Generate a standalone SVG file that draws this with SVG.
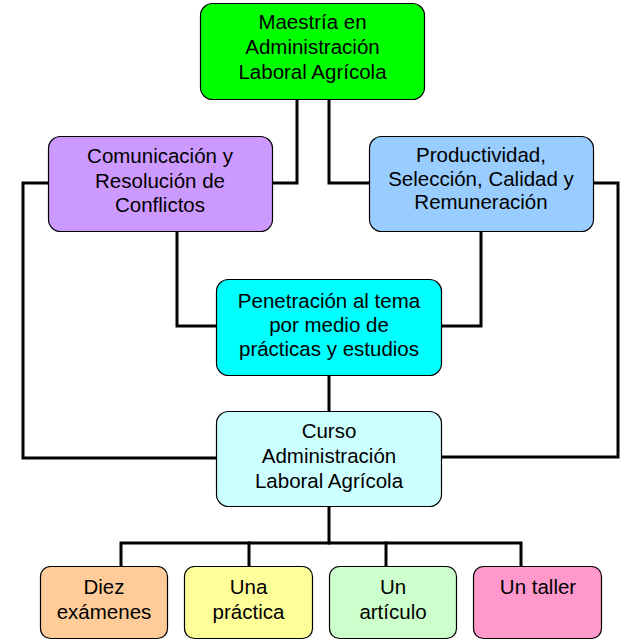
<svg xmlns="http://www.w3.org/2000/svg" width="624" height="642" viewBox="0 0 624 642">
<style>
.box{stroke:#000;stroke-width:1.2}
.t{font-family:"Liberation Sans",Arial,sans-serif;font-size:20.5px;fill:#000;text-anchor:middle}
.c{fill:none;stroke:#000;stroke-width:3;stroke-linejoin:miter;stroke-linecap:square}
</style>
<rect width="624" height="642" fill="#fff"/>
<g id="connectors">
<polyline class="c" points="297,99 297,183 272,183"/>
<polyline class="c" points="329,99 329,183 369,183"/>
<polyline class="c" points="48,183 23,183 23,458 216,458"/>
<polyline class="c" points="593,183 618,183 618,457 441,457"/>
<polyline class="c" points="177,231 177,326 216,326"/>
<polyline class="c" points="481,231 481,326 441,326"/>
<line class="c" x1="329" y1="375" x2="329" y2="411"/>
<line class="c" x1="329" y1="506" x2="329" y2="543"/>
<polyline class="c" points="121,566 121,543 521,543 521,566"/>
<line class="c" x1="249" y1="543" x2="249" y2="566"/>
<line class="c" x1="386" y1="543" x2="386" y2="566"/>
</g>
<g id="n-maestria">
<rect class="box" x="200.5" y="3.5" width="224" height="96" rx="12" fill="#00FF00"/>
<text class="t" x="312.5" y="29">Maestría en</text>
<text class="t" x="312.5" y="54">Administración</text>
<text class="t" x="312.5" y="79">Laboral Agrícola</text>
</g>
<g id="n-comunicacion">
<rect class="box" x="48.5" y="136.5" width="224" height="95" rx="12" fill="#CC99FF"/>
<text class="t" x="160" y="163">Comunicación y</text>
<text class="t" x="160" y="187.5">Resolución de</text>
<text class="t" x="160" y="212">Conflictos</text>
</g>
<g id="n-productividad">
<rect class="box" x="369.5" y="136.5" width="224" height="95" rx="12" fill="#99CCFF"/>
<text class="t" x="481" y="162">Productividad,</text>
<text class="t" x="481" y="185.5">Selección, Calidad y</text>
<text class="t" x="481" y="208.5">Remuneración</text>
</g>
<g id="n-penetracion">
<rect class="box" x="216.5" y="279.5" width="225" height="96" rx="12" fill="#00FFFF"/>
<text class="t" x="329" y="307.5">Penetración al tema</text>
<text class="t" x="329" y="331.5">por medio de</text>
<text class="t" x="329" y="356">prácticas y estudios</text>
</g>
<g id="n-curso">
<rect class="box" x="216.5" y="411.5" width="225" height="95" rx="12" fill="#CCFFFF"/>
<text class="t" x="329" y="438">Curso</text>
<text class="t" x="329" y="463">Administración</text>
<text class="t" x="329" y="488">Laboral Agrícola</text>
</g>
<g id="n-diez">
<rect class="box" x="40.5" y="566.5" width="127" height="72" rx="10" fill="#FFCC99"/>
<text class="t" x="104" y="594">Diez</text>
<text class="t" x="104" y="619">exámenes</text>
</g>
<g id="n-practica">
<rect class="box" x="184.5" y="566.5" width="128" height="72" rx="10" fill="#FFFF99"/>
<text class="t" x="248.5" y="594">Una</text>
<text class="t" x="248.5" y="619">práctica</text>
</g>
<g id="n-articulo">
<rect class="box" x="329.5" y="566.5" width="127" height="72" rx="10" fill="#CCFFCC"/>
<text class="t" x="393" y="594">Un</text>
<text class="t" x="393" y="619">artículo</text>
</g>
<g id="n-taller">
<rect class="box" x="473.5" y="566.5" width="128" height="72" rx="10" fill="#FF99CC"/>
<text class="t" x="538" y="594">Un taller</text>
</g>
</svg>
